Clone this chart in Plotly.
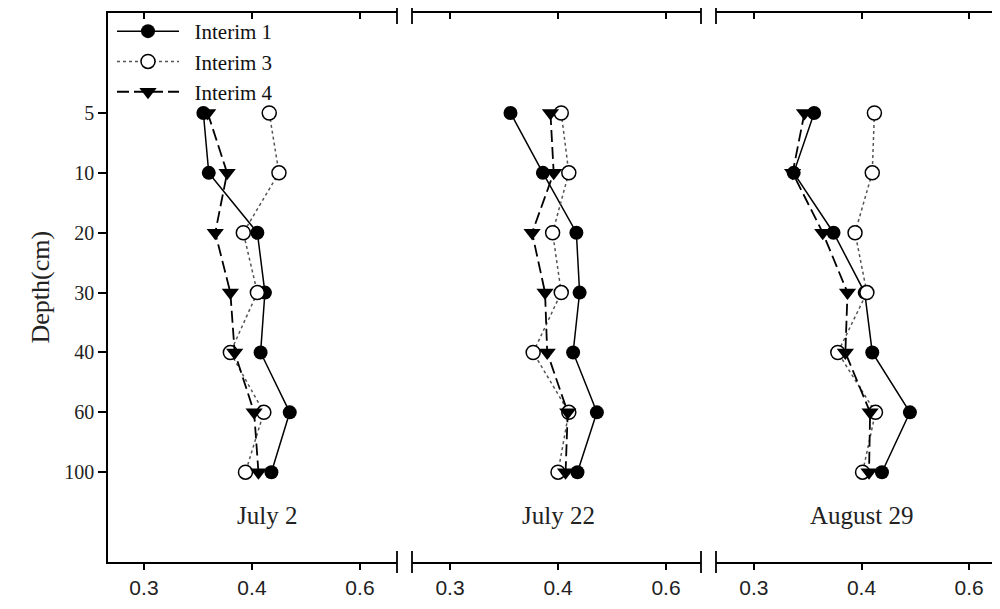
import plotly.graph_objects as go

# ---- data ----
depths = ["5", "10", "20", "30", "40", "60", "100"]
dates = ["July 2", "July 22", "August 29"]
series_names = ["Interim 1", "Interim 3", "Interim 4"]
tick_vals = [0.3, 0.4, 0.5]
tick_text = ["0.3", "0.4", "0.6"]

i1_jul2 = [0.355, 0.360, 0.405, 0.412, 0.408, 0.435, 0.418]
i3_jul2 = [0.416, 0.425, 0.392, 0.405, 0.380, 0.411, 0.394]
i4_jul2 = [0.359, 0.377, 0.366, 0.380, 0.384, 0.402, 0.406]

i1_jul22 = [0.356, 0.386, 0.417, 0.420, 0.414, 0.436, 0.418]
i3_jul22 = [0.403, 0.410, 0.395, 0.403, 0.377, 0.410, 0.400]
i4_jul22 = [0.393, 0.396, 0.376, 0.388, 0.390, 0.409, 0.407]

i1_aug29 = [0.356, 0.337, 0.374, 0.403, 0.410, 0.445, 0.419]
i3_aug29 = [0.412, 0.410, 0.394, 0.405, 0.378, 0.413, 0.401]
i4_aug29 = [0.347, 0.336, 0.364, 0.387, 0.385, 0.408, 0.407]

panel_data = [
    (i1_jul2, i3_jul2, i4_jul2),
    (i1_jul22, i3_jul22, i4_jul22),
    (i1_aug29, i3_aug29, i4_aug29),
]

W, H = 1000, 609
OFF = 8  # page body margin offset
def fx(p):
    return (p - OFF) / W
def fy(p):
    return 1 - (p - OFF) / H

SERIF = "Liberation Serif, Times New Roman, serif"
SANS = "Liberation Sans, Arial, sans-serif"

domains = [(108, 397), (412, 701), (716, 1000)]
ranges = [(0.2667, 0.5343), (0.2648, 0.5324), (0.2648, 0.5287)]
xnames = ["x", "x2", "x3"]
topnames = ["x4", "x5", "x6"]

fig = go.Figure()
PAD = "\u00a0\u00a0"

for k, (d1, d3, d4) in enumerate(panel_data):
    xa = xnames[k]
    show = (k == 0)
    fig.add_trace(go.Scatter(
        x=d1, y=depths, xaxis=xa, yaxis="y", mode="lines+markers",
        name=PAD + series_names[0], showlegend=show,
        line=dict(color="black", width=1.5),
        marker=dict(symbol="circle", size=14, color="black")))
    fig.add_trace(go.Scatter(
        x=d3, y=depths, xaxis=xa, yaxis="y", mode="lines+markers",
        name=PAD + series_names[1], showlegend=show,
        line=dict(color="#555555", width=1.5, dash="dot"),
        marker=dict(symbol="circle", size=14, color="white",
                    line=dict(color="black", width=1.5))))
    fig.add_trace(go.Scatter(
        x=d4, y=depths, xaxis=xa, yaxis="y", mode="lines+markers",
        name=PAD + series_names[2], showlegend=show,
        line=dict(color="black", width=1.8, dash="12px,5px"),
        marker=dict(symbol="triangle-down", size=15, color="black")))
    # empty trace to activate top tick axis
    fig.add_trace(go.Scatter(x=[], y=[], xaxis=topnames[k], yaxis="y",
                             showlegend=False, hoverinfo="skip"))

ydom = [fy(562), fy(13)]

layout = dict(
    width=W, height=H,
    margin=dict(l=0, r=0, t=0, b=0),
    paper_bgcolor="white", plot_bgcolor="white",
    showlegend=True,
    legend=dict(x=fx(112), y=fy(11), xanchor="left", yanchor="top",
                bgcolor="rgba(0,0,0,0)", font=dict(family=SERIF, size=21, color="#111"),
                itemwidth=62, tracegroupgap=0),
    yaxis=dict(domain=ydom, anchor="x", type="category",
               categoryorder="array", categoryarray=depths,
               range=[7.5, -1.67], showline=True, linecolor="black", linewidth=1.5,
               ticks="outside", ticklen=8, tickcolor="black", tickwidth=1.5,
               tickfont=dict(family=SERIF, size=20, color="#222"),
               showgrid=False, zeroline=False, fixedrange=True),
)

for k in range(3):
    n = "" if k == 0 else str(k + 1)
    layout["xaxis" + n] = dict(
        domain=[fx(domains[k][0]), min(1.0, fx(domains[k][1]))], anchor="y",
        range=list(ranges[k]), showline=True, mirror=True,
        linecolor="black", linewidth=1.5,
        ticks="outside", ticklen=6, tickcolor="black", tickwidth=1.5,
        tickvals=tick_vals, ticktext=tick_text,
        tickfont=dict(family=SANS, size=21, color="#222"),
        showgrid=False, zeroline=False)
    layout["xaxis" + str(k + 4)] = dict(
        domain=[fx(domains[k][0]), min(1.0, fx(domains[k][1]))], anchor="y",
        overlaying=xnames[k], side="top",
        range=list(ranges[k]), showline=False,
        ticks="inside", ticklen=6, tickcolor="black", tickwidth=1.5,
        tickvals=tick_vals, showticklabels=False,
        showgrid=False, zeroline=False)

fig.update_layout(**layout)

# date labels inside panels
label_x = [0.414, 0.4, 0.4]
for k, txt in enumerate(dates):
    fig.add_annotation(text=txt, x=label_x[k], xref=xnames[k], y=fy(531), yref="paper",
                       showarrow=False, font=dict(family=SERIF, size=25, color="#222"))

# y axis title
fig.add_annotation(text="Depth(cm)", x=fx(23), y=fy(287), xref="paper", yref="paper",
                   showarrow=False, textangle=-90,
                   font=dict(family=SERIF, size=26, color="#222"))

# axis-break marks
for px in [397, 412, 701, 716]:
    for (y0, y1) in [(2, 24), (551, 573)]:
        fig.add_shape(type="line", xref="paper", yref="paper",
                      x0=fx(px), x1=fx(px), y0=fy(y0), y1=fy(y1),
                      line=dict(color="black", width=1.8))

fig.write_html("out.html")
